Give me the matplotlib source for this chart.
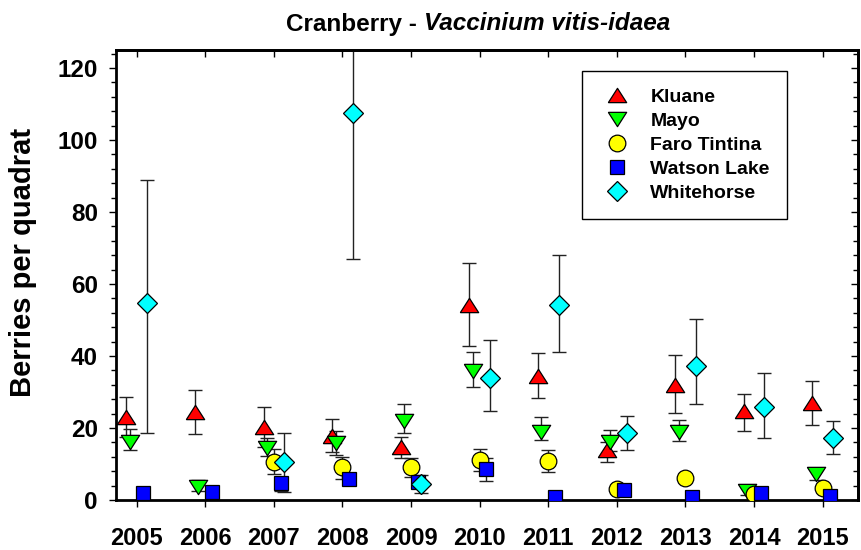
import numpy as np
import matplotlib
matplotlib.use("Agg")
import matplotlib.pyplot as plt
from matplotlib.lines import Line2D

plt.rcParams['font.family'] = ['Liberation Sans', 'DejaVu Sans']
plt.rcParams['font.weight'] = 'bold'

years = [2005, 2006, 2007, 2008, 2009, 2010, 2011, 2012, 2013, 2014, 2015]
nan = np.nan

kluane = [23.0, 24.5, 20.2, 17.8, 14.6, 54.2, 34.5, 13.9, 31.9, 24.7, 27.0]
kluane_lo = [17.4, 18.3, 14.7, 13.4, 11.6, 42.9, 28.3, 10.6, 24.1, 19.3, 20.8]
kluane_hi = [28.7, 30.5, 25.7, 22.4, 17.6, 65.8, 40.7, 16.2, 40.3, 29.4, 33.1]

mayo = [16.2, 3.7, 14.4, 15.7, 22.0, 35.9, 19.0, 16.2, 19.0, 2.5, 7.2]
mayo_lo = [13.9, 2.6, 12.2, 12.5, 18.5, 31.3, 16.7, 13.7, 16.5, 1.5, 5.5]
mayo_hi = [19.6, 5.5, 17.1, 19.3, 26.8, 41.2, 23.0, 19.4, 22.2, 3.5, 8.6]

faro = [nan, nan, 10.6, 9.1, 9.3, 11.1, 10.8, 3.0, 6.0, 1.7, 3.2]
faro_lo = [nan, nan, 7.1, 5.8, 6.5, 8.1, 7.7, 2.0, 5.2, 1.1, 2.2]
faro_hi = [nan, nan, 14.1, 12.0, 11.6, 14.1, 13.9, 4.0, 6.8, 2.3, 4.2]

watson = [2.0, 2.1, 4.6, 5.8, 5.1, 8.5, 0.9, 2.8, 0.9, 2.0, 1.2]
watson_lo = [1.4, 1.5, 2.5, 4.2, 3.6, 5.3, 0.5, 2.0, 0.5, 1.4, 0.8]
watson_hi = [2.6, 2.7, 6.5, 7.4, 6.8, 11.8, 1.3, 3.6, 1.3, 2.6, 1.6]

whitehorse = [54.6, nan, 10.5, 107.5, 4.4, 33.8, 54.2, 18.5, 37.2, 25.7, 17.1]
whitehorse_lo = [18.7, nan, 2.3, 66.9, 2.0, 24.8, 41.2, 13.9, 26.7, 17.3, 12.8]
whitehorse_hi = [88.9, nan, 18.7, 148.0, 6.9, 44.4, 68.0, 23.3, 50.3, 35.4, 22.0]

names = ["Kluane", "Mayo", "Faro Tintina", "Watson Lake", "Whitehorse"]
colors = ["#FF0000", "#00FF00", "#FFFF00", "#0000FF", "#00FFFF"]
offsets = [-0.15, -0.10, 0.0, 0.10, 0.15]

tri_up = [(-1, -0.78), (1, -0.78), (0, 0.78), (-1, -0.78)]
tri_dn = [(-1, 0.78), (1, 0.78), (0, -0.78), (-1, 0.78)]
markers = [tri_up, tri_dn, 'o', 's', 'D']
msizes = [13.2, 13.2, 12.0, 9.6, 10.0]

series = [(kluane, kluane_lo, kluane_hi), (mayo, mayo_lo, mayo_hi),
          (faro, faro_lo, faro_hi), (watson, watson_lo, watson_hi),
          (whitehorse, whitehorse_lo, whitehorse_hi)]

fig = plt.figure(figsize=(8.61, 5.5), dpi=100)
ax = fig.add_axes([116/861, 50/550, 742/861, 450/550])

yrs = np.array(years, dtype=float)
handles = []
for i, (vals, lo, hi) in enumerate(series):
    v = np.array(vals); l = np.array(lo); h = np.array(hi)
    yerr = np.vstack([v - l, h - v])
    ax.errorbar(yrs + offsets[i], v, yerr=yerr, fmt='none', ecolor='#222222',
                elinewidth=1.0, capsize=5, capthick=1.0, zorder=2 + i * 0.01)
    ax.plot(yrs + offsets[i], v, linestyle='none', marker=markers[i], ms=msizes[i],
            mfc=colors[i], mec='black', mew=0.9, zorder=3 + i * 0.01)
    handles.append(Line2D([], [], linestyle='none', marker=markers[i], ms=msizes[i],
                          mfc=colors[i], mec='black', mew=0.9, label=names[i]))

ax.set_xlim(2004.7, 2015.515)
ax.set_ylim(0, 125)
ax.set_xticks(years)
ax.set_xticklabels([str(y) for y in years])
ax.set_yticks([0, 20, 40, 60, 80, 100, 120])
ax.set_yticks(np.arange(0, 125, 4), minor=True)

for s in ax.spines.values():
    s.set_linewidth(2.0)

ax.tick_params(axis='x', which='major', direction='out', length=5, width=1.0,
               labelsize=17, pad=14.5, top=False)
ax.tick_params(axis='y', which='major', direction='out', length=5, width=1.0,
               labelsize=17.5, pad=8, right=False)
ax.tick_params(axis='y', which='minor', direction='out', length=3.5, width=1.0, right=False)

secx = ax.secondary_xaxis('top')
secx.set_xticks(years)
secx.tick_params(axis='x', direction='in', length=5, width=1.0, labeltop=False)
secx.spines['top'].set_linewidth(2.0)

secy = ax.secondary_yaxis('right')
secy.set_yticks([0, 20, 40, 60, 80, 100, 120])
secy.set_yticks(np.arange(0, 125, 4), minor=True)
secy.tick_params(axis='y', which='major', direction='in', length=5, width=1.0, labelright=False)
secy.tick_params(axis='y', which='minor', direction='in', length=3.5, width=1.0)
secy.spines['right'].set_linewidth(2.0)

for lab in ax.get_xticklabels() + ax.get_yticklabels():
    lab.set_fontweight('bold')

fig.text(22.7/861, 1 - 262/550, "Berries per quadrat", rotation=90, ha='center',
         va='center', fontsize=21, fontweight='bold')

leg = ax.legend(handles=handles, loc='upper left', bbox_to_anchor=(0.628, 0.953),
                borderaxespad=0, frameon=True, fancybox=False, framealpha=1,
                edgecolor='black', prop={'size': 14, 'weight': 'bold'},
                labelspacing=0.32, borderpad=0.9, handlelength=1.85,
                handletextpad=0.77)
leg.get_frame().set_linewidth(1.0)

# title in two parts
fig.canvas.draw()
r = fig.canvas.get_renderer()
t1 = fig.text(0, 0, "Cranberry - ", fontsize=17.5, fontweight='bold')
t2 = fig.text(0, 0, "Vaccinium vitis-idaea", fontsize=17.5, fontweight='bold', fontstyle='italic')
w1 = t1.get_window_extent(r).width
w2 = t2.get_window_extent(r).width
cx = 478.0
ybase = 1 - 30.5/550
x0 = cx - (w1 + w2) / 2
t1.set_position((x0/861, ybase))
t2.set_position(((x0 + w1)/861, ybase))
t1.set_va('baseline'); t2.set_va('baseline')

fig.savefig("out.png", dpi=100)
